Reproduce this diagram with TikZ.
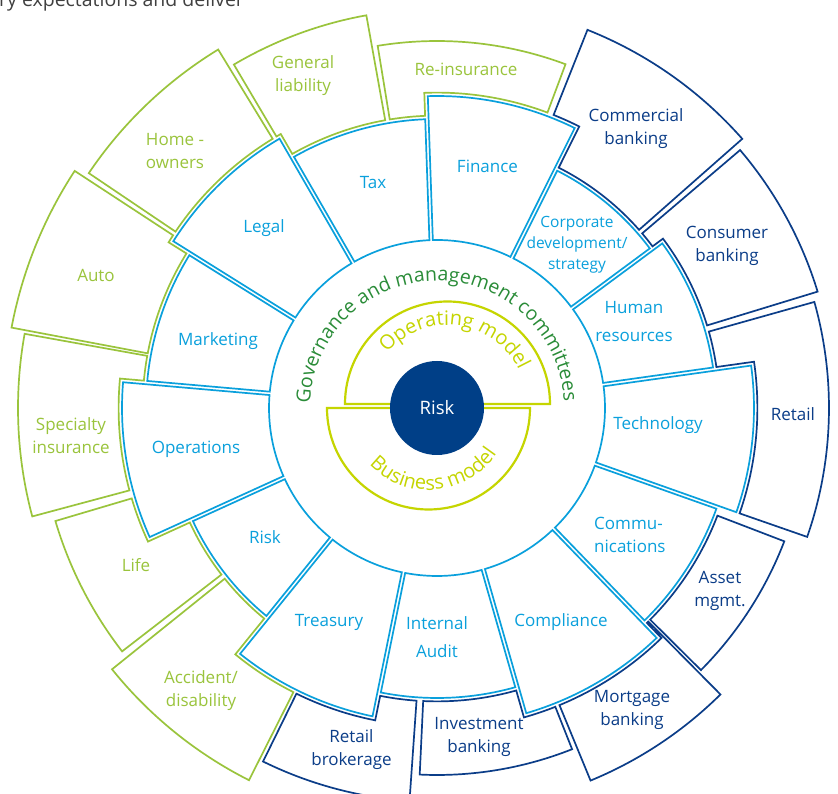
\documentclass[tikz,border=0pt]{standalone}
\usepackage{fontspec}
\setmainfont{Open Sans}
\usetikzlibrary{decorations.text}
\definecolor{lblue}{HTML}{0AA0DC}
\definecolor{igreen}{HTML}{9AC43C}
\definecolor{dblue}{HTML}{0B3D88}
\definecolor{govgreen}{HTML}{2A8C38}
\definecolor{ygreen}{HTML}{C5D500}
\definecolor{riskblue}{HTML}{003F87}
\def\g{1.7}
% blue function sector: a1 a2 rout style
\newcommand\bsect[4]{%
 \draw[#4] ({#1+asin(\g/168)}:168pt) -- ({#1+asin(\g/#3)}:#3pt)
   arc[start angle={#1+asin(\g/#3)}, end angle={#2-asin(\g/#3)}, radius=#3pt]
   -- ({#2-asin(\g/168)}:168pt)
   arc[start angle={#2-asin(\g/168)}, end angle={#1+asin(\g/168)}, radius=168pt] -- cycle;}
% outer sector: a1 a2 R rA B s rB style
\newcommand\osect[8]{%
 \draw[#8] (#1:#4pt) -- (#1:#3pt)
   arc[start angle=#1, end angle=#2, radius=#3pt]
   -- (#2:#7pt)
   arc[start angle=#2, end angle={#5+(#6)*asin(\g/#7)}, radius=#7pt]
   -- ({#5+(#6)*asin(\g/#4)}:#4pt)
   arc[start angle={#5+(#6)*asin(\g/#4)}, end angle=#1, radius=#4pt] -- cycle;}
\begin{document}
\begin{tikzpicture}[x=1pt,y=1pt,
  sect/.style={line width=1.7pt, line join=miter},
  bl/.style={sect, draw=lblue}, gr/.style={sect, draw=igreen}, db/.style={sect, draw=dblue},
  lab/.style={font=\fontsize{17}{23}\selectfont, align=center, inner sep=0pt},
  lbl/.style={lab, text=lblue}, lgr/.style={lab, text=igreen}, ldb/.style={lab, text=dblue}]
\fill[white] (-437,-386) rectangle (401,408);
\useasboundingbox (-437,-386) rectangle (401,408);
\clip (-437,-386) rectangle (401,408);

\node[anchor=base west, font=\fontsize{19.5}{19.5}\selectfont, text=black!75, inner sep=0pt] (intro) at (-438,401) {ry expectations and deliver};

% outer ring: banking (dark blue)
\osect{41.4}{68.3}{407}{269.4}{63.5}{-1}{315.4}{db}
\osect{17}{40.4}{398}{282.4}{36.5}{1}{269.4}{db}
\osect{-19.2}{15.7}{392}{320.4}{8}{1}{282.4}{db}
\osect{-44.8}{-21}{372}{300.4}{-30}{0}{300.4}{db}
\osect{-67.6}{-45.3}{403}{321.4}{-46}{1}{300.4}{db}
\osect{-92.7}{-68.4}{367}{293.4}{-74}{-1}{321.4}{db}
\osect{-116.2}{-94}{394}{318.4}{-101.5}{1}{293.4}{db}
% outer ring: insurance (green)
\osect{-141.2}{-116.8}{417}{272.4}{-129}{-1}{318.4}{gr}
\osect{-163.5}{-142.3}{398}{318.4}{-155.5}{1}{272.4}{gr}
\osect{169.8}{195}{419}{294.4}{175}{-1}{318.4}{gr}
\osect{146.8}{169.3}{433}{315.4}{148}{1}{294.4}{gr}
\osect{121.4}{146}{420}{315.4}{130}{0}{315.4}{gr}
\osect{100.2}{120.6}{399}{292.4}{120}{-1}{315.4}{gr}
\osect{69.5}{99.3}{367}{315.4}{92}{1}{292.4}{gr}

% functions ring (light blue)
\bsect{63.5}{92}{312}{bl}
\bsect{36.5}{63.5}{266}{bl}
\bsect{8}{36.5}{279}{bl}
\bsect{-19.5}{8}{317}{bl}
\bsect{-46}{-19.5}{297}{bl}
\bsect{-74}{-46}{318}{bl}
\bsect{-101.5}{-74}{290}{bl}
\bsect{-129}{-101.5}{315}{bl}
\bsect{-155.5}{-129}{269}{bl}
\bsect{175}{204.5}{315}{bl}
\bsect{148}{175}{291}{bl}
\bsect{120}{148}{312}{bl}
\bsect{92}{120}{289}{bl}

% governance text
\path[decorate, decoration={text along path, text align=center,
  text={|\fontsize{19.5}{19.5}\selectfont\color{govgreen}|Governance and management committees}}]
  (200:127pt) arc[start angle=200, end angle=-19, radius=127pt];

% operating / business model half discs
\draw[ygreen, line width=2.2pt] (-92,4) arc[start angle=180, end angle=0, radius=102.5pt] -- cycle;
\draw[ygreen, line width=2.2pt] (-110,0) arc[start angle=180, end angle=360, radius=101.5pt] -- cycle;
\path[decorate, decoration={text along path, text align=center,
  text={|\fontsize{20}{20}\selectfont\color{ygreen}|Operating model}}]
  ([shift={(10.5,4)}]172.5:79pt) arc[start angle=172.5, end angle=-7.5, radius=79pt];
\path[decorate, decoration={text along path, text align=center,
  text={|\fontsize{20}{20}\selectfont\color{ygreen}|Business model}}]
  ([shift={(-8.5,0)}]-175:82pt) arc[start angle=-175, end angle=5, radius=82pt];

\node[circle, fill=riskblue, minimum size=94pt, inner sep=0pt, text=white,
  font=\fontsize{18.5}{18.5}\selectfont] (risk) at (0,0) {Risk};

% function labels
\node[lbl] (finance) at (50.5,242) {Finance};
\node[lbl, font=\fontsize{15.5}{21}\selectfont] (corpdev) at (140,163) {Corporate\\development/\\strategy};
\node[lbl] (hr) at (197,86) {Human\\[5pt]resources};
\node[lbl] (tech) at (221,-17) {Technology};
\node[lbl, anchor=west, align=left] (comm) at (157,-127) {Commu-\\nications};
\node[lbl] (compliance) at (124,-214) {Compliance};
\node[lbl] (audit) at (0,-229) {Internal\\[5pt]Audit};
\node[lbl] (treasury) at (-108,-214) {Treasury};
\node[lbl] (riskf) at (-172,-129) {Risk};
\node[lbl] (ops) at (-241,-41) {Operations};
\node[lbl] (marketing) at (-219,67) {Marketing};
\node[lbl] (legal) at (-173,180) {Legal};
\node[lbl] (tax) at (-64,225) {Tax};

% banking labels
\node[ldb] (commercial) at (199,279) {Commercial\\banking};
\node[ldb] (consumer) at (290,162) {Consumer\\banking};
\node[ldb] (retail) at (356,-6) {Retail};
\node[ldb] (asset) at (283,-183) {Asset\\mgmt.};
\node[ldb] (mortgage) at (195,-302) {Mortgage\\banking};
\node[ldb] (investment) at (42,-329) {Investment\\banking};
\node[ldb] (brokerage) at (-85.5,-342) {Retail\\brokerage};

% insurance labels
\node[lgr] (accident) at (-236,-283) {Accident/\\disability};
\node[lgr] (life) at (-301,-157) {Life};
\node[lgr] (specialty) at (-366,-28) {Specialty\\insurance};
\node[lgr] (auto) at (-341,133) {Auto};
\node[lgr] (home) at (-262,257) {Home -\\owners};
\node[lgr] (general) at (-134,332) {General\\liability};
\node[lgr] (reins) at (29,339) {Re-insurance};
\end{tikzpicture}
\end{document}
